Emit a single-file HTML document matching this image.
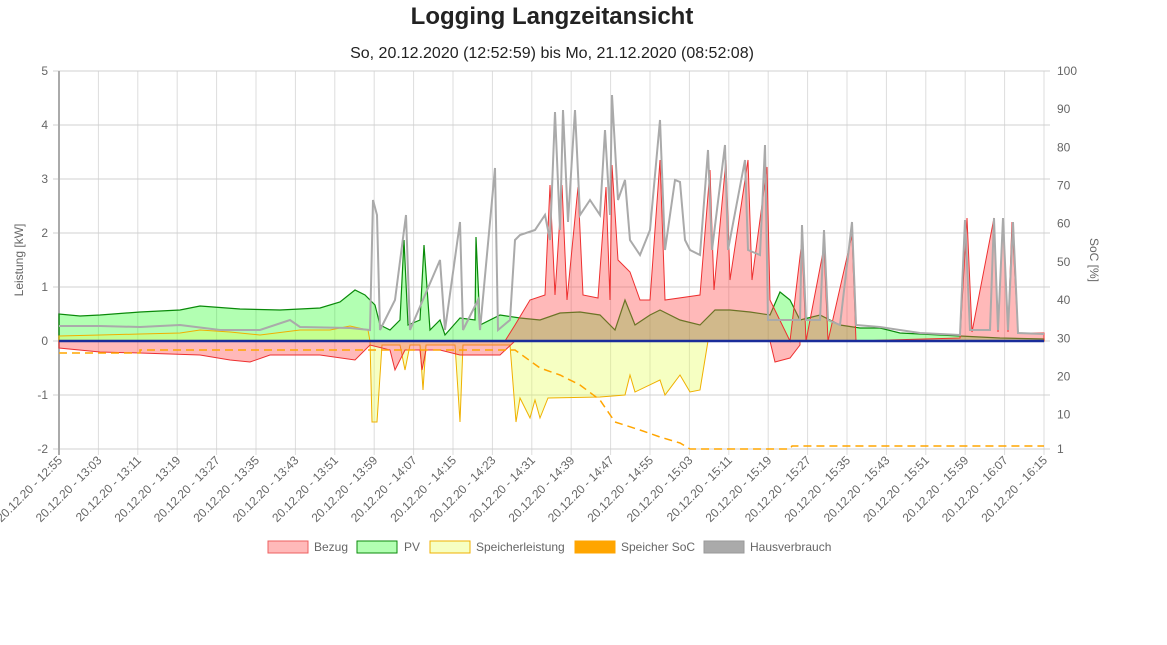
<!DOCTYPE html>
<html><head><meta charset="utf-8"><style>
body{margin:0;background:#fff;width:1167px;height:640px;overflow:hidden}
text{font-family:"Liberation Sans",sans-serif}
</style></head><body>
<svg width="1167" height="640" xmlns="http://www.w3.org/2000/svg">
<text x="552" y="24" text-anchor="middle" font-size="24" font-weight="bold" fill="#222">Logging Langzeitansicht</text>
<text x="552" y="58" text-anchor="middle" font-size="16" fill="#222">So, 20.12.2020 (12:52:59) bis Mo, 21.12.2020 (08:52:08)</text>
<g stroke="#ddd" stroke-width="1" id="grid"></g>
<g id="hg" stroke="#d0d0d0"></g>
<g font-size="12" fill="#666" id="yl"></g>
<text transform="translate(23,260) rotate(-90)" text-anchor="middle" font-size="12" fill="#666">Leistung [kW]</text>
<text transform="translate(1090,260) rotate(90)" text-anchor="middle" font-size="12" fill="#666">SoC [%]</text>
<polygon fill="rgba(0,255,0,0.3)" stroke="#0a8a0a" stroke-width="1.2" points="59,341 59,314 80,316 100,315 140,312 180,310 200,306 240,309 280,310 320,308 340,302 355,290 365,295 375,305 380,325 390,330 400,320 404,240 408,325 420,320 424,245 430,330 440,320 445,335 460,318 475,320 476,237 480,325 500,315 520,318 540,320 560,313 580,312 600,315 615,330 625,300 635,325 650,315 660,310 680,320 700,325 715,310 730,310 750,312 770,315 780,292 790,300 800,320 820,315 840,325 860,328 880,328 900,333 920,334 960,336 1000,338 1044,339 1044,341"/>
<polygon fill="rgba(230,255,80,0.35)" stroke="#f0b000" stroke-width="1" points="59,341 59,336 100,335 140,334 180,333 200,330 230,332 260,335 300,330 330,330 350,326 368,330 370,341 372,422 377,422 382,345 400,345 405,370 410,345 420,345 423,390 426,345 455,345 460,422 463,345 510,345 516,422 520,398 530,418 535,400 540,418 548,398 600,397 625,395 630,375 635,392 660,380 665,395 680,375 690,392 700,390 708,341"/>
<polygon fill="rgba(255,80,80,0.4)" stroke="#ee3030" stroke-width="1" points="505,341 515,325 530,300 545,295 550,185 555,295 562,185 567,300 578,187 583,295 598,298 606,187 610,300 612,165 618,260 630,272 640,300 650,300 660,160 665,300 700,295 710,170 714,290 726,160 730,280 748,160 752,280 767,167 770,300 790,341 802,240 806,341 824,247 828,341 852,235 856,341 960,338 967,218 972,332 994,218 998,332 1003,218 1008,332 1012,222 1018,333 1044,333 1044,341"/>
<polygon fill="rgba(255,80,80,0.4)" stroke="#ee3030" stroke-width="1" points="59,341 59,348 100,352 140,353 200,355 230,360 250,362 270,355 290,355 320,355 355,360 370,345 390,350 395,370 405,350 420,350 422,370 426,350 440,350 460,355 500,355 515,341"/>
<polygon fill="rgba(255,80,80,0.4)" stroke="#ee3030" stroke-width="1" points="770,341 775,362 790,358 800,345 800,341"/>
<polyline fill="none" stroke="#aaa" stroke-width="2" points="59,326 100,326 140,327 180,325 220,330 260,330 290,320 300,327 350,328 370,330 373,200 377,215 380,330 395,300 406,215 410,330 440,260 445,330 460,222 463,330 478,300 480,330 495,168 498,330 510,320 515,240 520,235 535,230 545,215 550,240 555,112 560,230 563,110 568,222 575,110 580,215 590,200 600,215 605,130 610,215 612,95 618,200 625,180 630,240 640,255 650,230 660,120 665,250 675,180 680,182 685,240 690,250 700,255 708,150 712,250 725,145 728,250 745,160 748,250 760,255 765,145 768,320 780,320 800,320 802,225 806,320 820,320 824,230 828,320 840,325 852,222 856,325 880,327 920,333 960,335 965,220 970,330 990,330 994,218 998,330 1003,218 1008,330 1013,222 1018,333 1044,334"/>
<polyline fill="none" stroke="#ffa500" stroke-width="1.5" stroke-dasharray="8,5" points="59,353 140,353 140,350 515,350 540,368 560,375 580,385 600,400 615,422 640,430 660,437 680,443 690,449 790,449 792,446 1044,446"/>
<line x1="59" y1="341" x2="1044" y2="341" stroke="#1a2d9a" stroke-width="2.5"/>
<g font-size="12" fill="#666" id="xl"></g>
<g font-size="12" fill="#666">
<rect x="268" y="541" width="40" height="12" fill="rgba(255,80,80,0.4)" stroke="#ee6060"/><text x="314" y="551">Bezug</text>
<rect x="357" y="541" width="40" height="12" fill="rgba(0,255,0,0.3)" stroke="#0a8a0a"/><text x="404" y="551">PV</text>
<rect x="430" y="541" width="40" height="12" fill="rgba(230,255,80,0.35)" stroke="#f0b000"/><text x="476" y="551">Speicherleistung</text>
<rect x="575" y="541" width="40" height="12" fill="#ffa500" stroke="#ffa500"/><text x="621" y="551">Speicher SoC</text>
<rect x="704" y="541" width="40" height="12" fill="#aaa" stroke="#999"/><text x="750" y="551">Hausverbrauch</text>
</g>
</svg>
<script>
var ns="http://www.w3.org/2000/svg";
function el(p,t,a,tx){var e=document.createElementNS(ns,t);for(var k in a)e.setAttribute(k,a[k]);if(tx!==undefined)e.textContent=tx;document.getElementById(p).appendChild(e);}
for(var i=0;i<26;i++){var x=59+i*39.4;el("grid","line",{x1:x,y1:71,x2:x,y2:455});
var m=55+i*8,h=12+Math.floor(m/60);m=m%60;var lab="20.12.20 - "+h+":"+(m<10?"0":"")+m;
el("xl","text",{transform:"translate("+(x+4)+",461) rotate(-45)","text-anchor":"end"},lab);}
var kw=[5,4,3,2,1,0,-1,-2];
for(var j=0;j<8;j++){var y=71+j*54;el("hg","line",{x1:53,y1:y,x2:1050,y2:y});el("yl","text",{x:48,y:y+4,"text-anchor":"end"},kw[j]);}
var soc=[100,90,80,70,60,50,40,30,20,10,1];
for(var j=0;j<11;j++){var y=449-(soc[j]-1)*378/99;el("yl","text",{x:1057,y:y+4},soc[j]);}
el("hg","line",{x1:59,y1:71,x2:59,y2:455,stroke:"#aaa","stroke-width":2});
</script>
</body></html>
